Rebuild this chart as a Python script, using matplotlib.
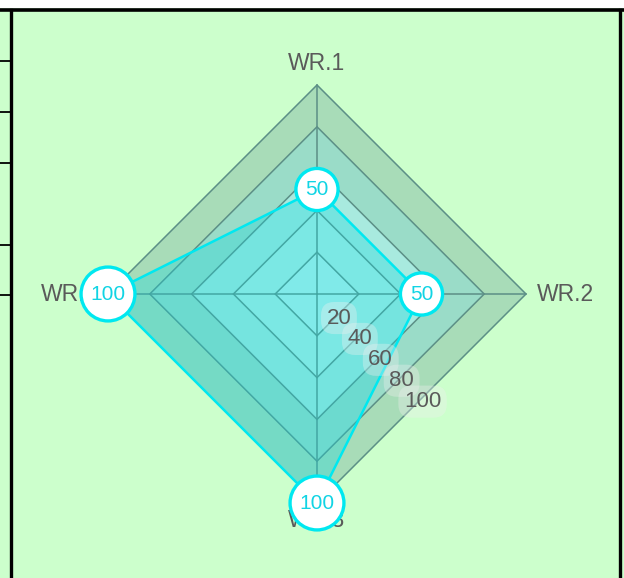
import numpy as np
import matplotlib
matplotlib.use("Agg")
import matplotlib.pyplot as plt
from matplotlib.patches import Polygon, Rectangle
from matplotlib.lines import Line2D

# ── data ─────────────────────────────────────────────────────────────────────
AXES_LABELS = ["WR.1", "WR.2", "WR.3", "WR.4"]
VALUES      = [50, 50, 100, 100]
TICKS       = [20, 40, 60, 80, 100]
R_MAX       = 100

# ── style ────────────────────────────────────────────────────────────────────
BG         = "#ccffcc"
BAND_FILLS = ["#b8f4ee", "#b0f0e6", "#a8eadf", "#9adcc8", "#a8dcb8"]  # inner → outer
GRID_LINE  = "#5c8f86"
CYAN       = "#00e8f0"
TEXT_GREY  = "#5a5a5a"
FONT       = "Liberation Sans"

W, H, DPI = 624, 578, 100
CX, CY    = 317, 294          # chart centre in pixels (from top-left)
SCALE     = 2.09              # pixels per data unit

plt.rcParams["font.family"] = [FONT, "DejaVu Sans"]

fig = plt.figure(figsize=(W / DPI, H / DPI), dpi=DPI, facecolor=BG)
ax = fig.add_axes([0, 0, 1, 1])
ax.set_facecolor(BG)
ax.set_xlim(-CX / SCALE, (W - CX) / SCALE)
ax.set_ylim(-(H - CY) / SCALE, CY / SCALE)
ax.axis("off")

# axis directions: top, right, bottom, left (clockwise from 12 o'clock)
n = len(AXES_LABELS)
angles = np.pi / 2 - np.arange(n) * 2 * np.pi / n
dirs = np.column_stack([np.cos(angles), np.sin(angles)])

# grid bands, outer first so inner ones sit on top
for t, col in reversed(list(zip(TICKS, BAND_FILLS))):
    ax.add_patch(Polygon(dirs * t, closed=True, facecolor=col,
                         edgecolor=GRID_LINE, linewidth=1.1, zorder=1))

# spokes
for d in dirs:
    ax.plot([0, d[0] * R_MAX], [0, d[1] * R_MAX], color=GRID_LINE,
            linewidth=1.1, zorder=2)

# data polygon
pts = dirs * np.array(VALUES)[:, None]
ax.add_patch(Polygon(pts, closed=True, facecolor="#10d8e0", alpha=0.33,
                     edgecolor="none", zorder=3))
ax.add_patch(Polygon(pts, closed=True, facecolor="none", edgecolor=CYAN,
                     linewidth=1.8, zorder=4))

# axis labels
off = 5
ax.text(0, R_MAX + off, AXES_LABELS[0], ha="center", va="bottom",
        fontsize=16.5, color=TEXT_GREY, zorder=5)
ax.text(R_MAX + off, 0, AXES_LABELS[1], ha="left", va="center",
        fontsize=16.5, color=TEXT_GREY, zorder=5)
ax.text(0, -R_MAX - 3, AXES_LABELS[2], ha="center", va="top",
        fontsize=16.5, color=TEXT_GREY, zorder=5)
ax.text(-R_MAX - off, 0, AXES_LABELS[3], ha="right", va="center",
        fontsize=16.5, color=TEXT_GREY, zorder=5)

# tick labels along the lower-right diagonal
for t in TICKS:
    ax.text(t / 2 + 0.5, -t / 2 - 1.5, str(t), ha="center", va="center",
            fontsize=16, color=TEXT_GREY, zorder=6,
            bbox=dict(boxstyle="round,pad=0.25,rounding_size=0.6",
                      facecolor="#f0f0f0", alpha=0.35, edgecolor="none"))

# value markers
for (x, y), v in zip(pts, VALUES):
    ax.text(x, y, str(v), ha="center", va="center", fontsize=15,
            color="#11d4e4", zorder=8,
            bbox=dict(boxstyle="circle,pad=0.45", facecolor="white",
                      edgecolor=CYAN, linewidth=2.4))

# ── surrounding frame ────────────────────────────────────────────────────────
def fx(px):
    return px / W

def fy(py):
    return 1 - py / H

fig.add_artist(Rectangle((0, fy(8)), 1, 8 / H, transform=fig.transFigure,
                         facecolor="white", edgecolor="none", zorder=10))
fig.add_artist(Line2D([0, 1], [fy(10), fy(10)], transform=fig.transFigure,
                      color="black", linewidth=2.6, zorder=11))
fig.add_artist(Line2D([fx(10.5), fx(10.5)], [fy(10), 0], transform=fig.transFigure,
                      color="black", linewidth=2.4, zorder=11))
fig.add_artist(Line2D([fx(620), fx(620)], [fy(10), 0], transform=fig.transFigure,
                      color="black", linewidth=2.4, zorder=11))
for yy in [61, 112, 163, 245, 295]:
    fig.add_artist(Line2D([0, fx(10)], [fy(yy), fy(yy)], transform=fig.transFigure,
                          color="black", linewidth=1.3, zorder=11))

fig.savefig("out.png", dpi=DPI, facecolor=BG)
